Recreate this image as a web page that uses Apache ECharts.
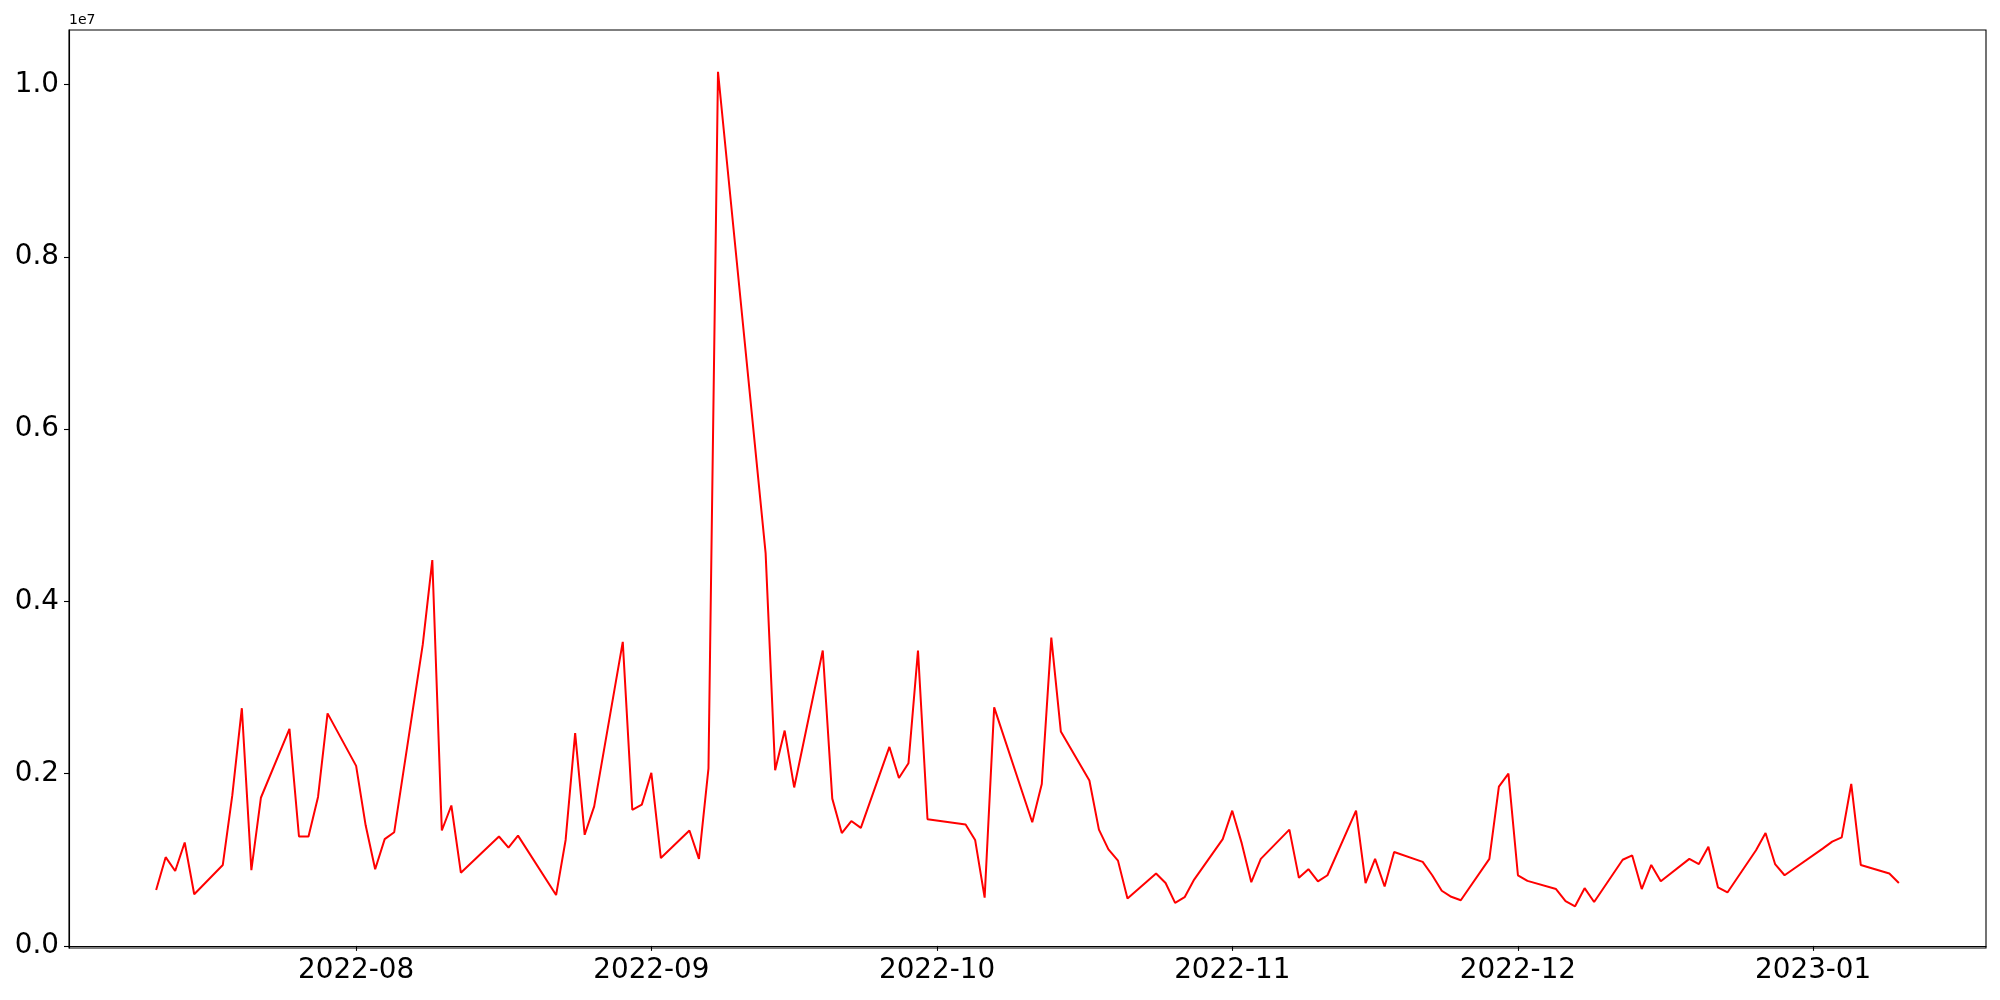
<!DOCTYPE html>
<html>
<head>
<meta charset="utf-8">
<script src="https://cdn.jsdelivr.net/npm/echarts@6/dist/echarts.min.js"></script>
<style>
html,body{margin:0;padding:0;background:#fff;}
#chart{width:2000px;height:1000px;}
</style>
</head>
<body>
<div id="chart"></div>
<script>
const dates = [
'2022-07-11','2022-07-12','2022-07-13','2022-07-14','2022-07-15',
'2022-07-18','2022-07-19','2022-07-20','2022-07-21','2022-07-22',
'2022-07-25','2022-07-26','2022-07-27','2022-07-28','2022-07-29',
'2022-08-01','2022-08-02','2022-08-03','2022-08-04','2022-08-05',
'2022-08-08','2022-08-09','2022-08-10','2022-08-11','2022-08-12',
'2022-08-16','2022-08-17','2022-08-18',
'2022-08-22','2022-08-23','2022-08-24','2022-08-25','2022-08-26',
'2022-08-29','2022-08-30','2022-08-31','2022-09-01','2022-09-02',
'2022-09-05','2022-09-06','2022-09-07','2022-09-08',
'2022-09-13','2022-09-14','2022-09-15','2022-09-16',
'2022-09-19','2022-09-20','2022-09-21','2022-09-22','2022-09-23',
'2022-09-26','2022-09-27','2022-09-28','2022-09-29','2022-09-30',
'2022-10-04','2022-10-05','2022-10-06','2022-10-07',
'2022-10-11','2022-10-12','2022-10-13','2022-10-14',
'2022-10-17','2022-10-18','2022-10-19','2022-10-20','2022-10-21',
'2022-10-24','2022-10-25','2022-10-26','2022-10-27','2022-10-28',
'2022-10-31','2022-11-01','2022-11-02','2022-11-03','2022-11-04',
'2022-11-07','2022-11-08','2022-11-09','2022-11-10','2022-11-11',
'2022-11-14','2022-11-15','2022-11-16','2022-11-17','2022-11-18',
'2022-11-21','2022-11-22','2022-11-23','2022-11-24','2022-11-25',
'2022-11-28','2022-11-29','2022-11-30','2022-12-01','2022-12-02',
'2022-12-05','2022-12-06','2022-12-07','2022-12-08','2022-12-09',
'2022-12-12','2022-12-13','2022-12-14','2022-12-15','2022-12-16',
'2022-12-19','2022-12-20','2022-12-21','2022-12-22','2022-12-23',
'2022-12-26','2022-12-27','2022-12-28','2022-12-29',
'2023-01-02','2023-01-03','2023-01-04','2023-01-05','2023-01-06',
'2023-01-09','2023-01-10'
];
const values = [
650000,1030000,870000,1200000,600000,
940000,1750000,2760000,880000,1720000,
2520000,1270000,1270000,1730000,2700000,
2090000,1400000,890000,1240000,1320000,
3500000,4480000,1340000,1630000,850000,
1270000,1140000,1280000,
590000,1230000,2470000,1290000,1620000,
3530000,1580000,1640000,2010000,1020000,
1340000,1010000,2060000,10150000,
4560000,2040000,2500000,1840000,
3430000,1710000,1310000,1450000,1370000,
2310000,1950000,2120000,3430000,1470000,
1410000,1230000,560000,2770000,
1435000,1880000,3580000,2490000,
1920000,1350000,1120000,990000,550000,
840000,730000,500000,565000,770000,
1240000,1570000,1190000,740000,1010000,
1350000,790000,890000,750000,820000,
1570000,730000,1010000,690000,1090000,
975000,820000,640000,570000,530000,
1010000,1850000,2000000,820000,755000,
660000,520000,460000,670000,510000,
1000000,1050000,660000,940000,750000,
1010000,950000,1150000,680000,620000,
1110000,1310000,950000,820000,
1130000,1210000,1260000,1880000,940000,
840000,730000
];
const xTickDates = ['2022-08-01','2022-09-01','2022-10-01','2022-11-01','2022-12-01','2023-01-01'];
const yTickValues = [0, 2000000, 4000000, 6000000, 8000000, 10000000];
const offsetText = '1e7';

function utc(s){ const p = s.split('-').map(Number); return Date.UTC(p[0], p[1]-1, p[2]); }
function fmtMonth(v){ const d = new Date(v); const m = d.getUTCMonth()+1; return d.getUTCFullYear() + '-' + (m < 10 ? '0' + m : m); }
const DAY = 86400000;
const seriesData = dates.map((d,i) => [utc(d), values[i]]);
const xMin = utc(dates[0]) - 9.15*DAY;
const xMax = utc(dates[dates.length-1]) + 9.15*DAY;
const vMin = Math.min(...values), vMax = Math.max(...values);
const yPad = (vMax - vMin)*0.05;

const chart = echarts.init(document.getElementById('chart'), null, {renderer:'canvas'});
chart.setOption({
  animation: false,
  backgroundColor: '#ffffff',
  title: {
    text: offsetText, left: 69, top: 13, padding: 0,
    textStyle: {fontFamily: 'DejaVu Sans', fontSize: 14, fontWeight: 'normal', color: '#000'}
  },
  grid: {left: 69, right: 14, top: 30, bottom: 52, show: true, borderColor: '#000', borderWidth: 1.1, backgroundColor: 'transparent'},
  xAxis: {
    type: 'value', min: xMin, max: xMax,
    splitLine: {show: false},
    axisLine: {show: true, lineStyle: {color: '#000', width: 1.1}},
    axisTick: {show: true, length: 5, lineStyle: {color: '#000', width: 1.1}, customValues: xTickDates.map(utc)},
    axisLabel: {
      show: true, color: '#000', fontFamily: 'DejaVu Sans', fontSize: 27.8, margin: 9,
      customValues: xTickDates.map(utc),
      formatter: v => fmtMonth(v)
    }
  },
  yAxis: {
    type: 'value', min: vMin - yPad, max: vMax + yPad,
    splitLine: {show: false},
    axisLine: {show: true, lineStyle: {color: '#000', width: 1.1}},
    axisTick: {show: true, length: 5, lineStyle: {color: '#000', width: 1.1}, customValues: yTickValues},
    axisLabel: {
      show: true, color: '#000', fontFamily: 'DejaVu Sans', fontSize: 27.8, margin: 10,
      customValues: yTickValues,
      formatter: v => (v/1e7).toFixed(1)
    }
  },
  series: [{
    type: 'line', data: seriesData, showSymbol: false, symbol: 'none',
    lineStyle: {color: '#ff0000', width: 2}, itemStyle: {color: '#ff0000'}
  }]
});
</script>
</body>
</html>
